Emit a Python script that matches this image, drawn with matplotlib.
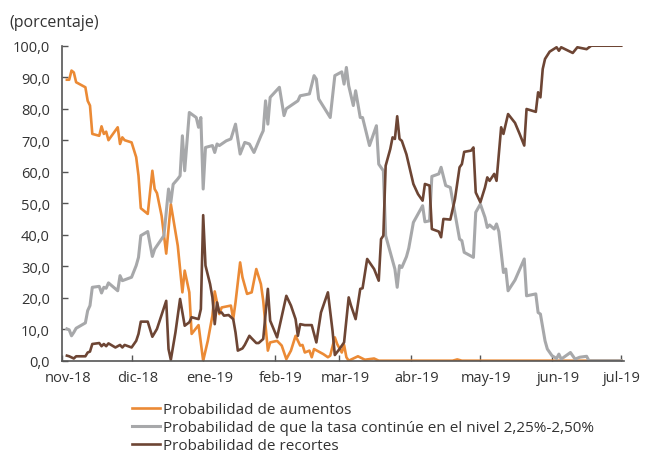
import matplotlib
matplotlib.use("Agg")
import matplotlib.pyplot as plt
import matplotlib.transforms as mtransforms
from matplotlib.ticker import FuncFormatter
import pandas as pd

plt.rcParams['font.family'] = ['Open Sans', 'DejaVu Sans']

# Probabilidad de aumentos
fechas_aum = ['2018-11-03', '2018-11-04', '2018-11-05', '2018-11-06', '2018-11-07',
              '2018-11-11', '2018-11-12', '2018-11-13', '2018-11-14', '2018-11-17',
              '2018-11-18', '2018-11-19', '2018-11-20', '2018-11-21', '2018-11-25',
              '2018-11-26', '2018-11-27', '2018-11-28', '2018-12-01', '2018-12-03',
              '2018-12-04', '2018-12-05', '2018-12-08', '2018-12-10', '2018-12-11',
              '2018-12-12', '2018-12-14', '2018-12-16', '2018-12-18', '2018-12-21',
              '2018-12-23', '2018-12-24', '2018-12-26', '2018-12-27', '2018-12-30',
              '2019-01-01', '2019-01-03', '2019-01-05', '2019-01-06', '2019-01-08',
              '2019-01-09', '2019-01-13', '2019-01-14', '2019-01-15', '2019-01-17',
              '2019-01-18', '2019-01-20', '2019-01-22', '2019-01-24', '2019-01-26',
              '2019-01-27', '2019-01-29', '2019-01-30', '2019-02-02', '2019-02-04',
              '2019-02-06', '2019-02-08', '2019-02-10', '2019-02-12', '2019-02-13',
              '2019-02-14', '2019-02-16', '2019-02-17', '2019-02-18', '2019-02-22',
              '2019-02-24', '2019-02-25', '2019-02-27', '2019-02-28', '2019-03-02',
              '2019-03-03', '2019-03-04', '2019-03-05', '2019-03-09', '2019-03-12',
              '2019-03-16', '2019-03-18', '2019-04-19', '2019-04-21', '2019-04-23',
              '2019-07-01']
aumentos = [89.2, 89.2, 92.1, 91.5, 88.4,
            86.8, 82.5, 81.0, 72.0, 71.4,
            74.4, 72.0, 72.7, 70.0, 74.1,
            68.8, 70.9, 70.0, 69.3, 64.6,
            58.7, 48.4, 46.6, 60.3, 54.5,
            53.2, 46.0, 34.0, 49.7, 36.5,
            21.7, 28.6, 21.7, 8.5, 11.3,
            0.0, 6.3, 14.3, 22.0, 14.8,
            16.9, 17.5, 13.2, 18.5, 31.2,
            26.5, 21.2, 21.7, 29.1, 24.3,
            19.0, 3.2, 5.8, 6.3, 4.8,
            0.5, 3.2, 7.9, 4.8, 5.0,
            2.6, 3.2, 1.1, 3.7, 2.1,
            1.1, 1.6, 7.4, 5.3, 2.6,
            5.0, 1.1, 0.0, 1.4, 0.3,
            0.7, 0.0, 0.0, 0.4, 0.0,
            0.0]

# Probabilidad de que la tasa continúe en el nivel 2,25%-2,50%
fechas_cont = ['2018-11-03', '2018-11-04', '2018-11-05', '2018-11-06', '2018-11-07',
               '2018-11-11', '2018-11-12', '2018-11-13', '2018-11-14', '2018-11-17',
               '2018-11-18', '2018-11-19', '2018-11-20', '2018-11-21', '2018-11-25',
               '2018-11-26', '2018-11-27', '2018-12-01', '2018-12-03', '2018-12-04',
               '2018-12-05', '2018-12-08', '2018-12-10', '2018-12-11', '2018-12-12',
               '2018-12-15', '2018-12-17', '2018-12-18', '2018-12-19', '2018-12-21',
               '2018-12-22', '2018-12-23', '2018-12-24', '2018-12-26', '2018-12-29',
               '2018-12-30', '2018-12-31', '2019-01-01', '2019-01-02', '2019-01-05',
               '2019-01-06', '2019-01-07', '2019-01-08', '2019-01-11', '2019-01-13',
               '2019-01-15', '2019-01-17', '2019-01-19', '2019-01-21', '2019-01-23',
               '2019-01-26', '2019-01-27', '2019-01-28', '2019-01-29', '2019-01-30',
               '2019-02-03', '2019-02-05', '2019-02-06', '2019-02-08', '2019-02-09',
               '2019-02-11', '2019-02-12', '2019-02-16', '2019-02-18', '2019-02-19',
               '2019-02-20', '2019-02-25', '2019-02-27', '2019-03-02', '2019-03-03',
               '2019-03-04', '2019-03-05', '2019-03-07', '2019-03-08', '2019-03-10',
               '2019-03-11', '2019-03-14', '2019-03-17', '2019-03-18', '2019-03-20',
               '2019-03-21', '2019-03-23', '2019-03-25', '2019-03-26', '2019-03-27',
               '2019-03-28', '2019-03-30', '2019-03-31', '2019-04-02', '2019-04-06',
               '2019-04-07', '2019-04-09', '2019-04-10', '2019-04-13', '2019-04-14',
               '2019-04-16', '2019-04-18', '2019-04-22', '2019-04-23', '2019-04-24',
               '2019-04-28', '2019-04-29', '2019-05-01', '2019-05-03', '2019-05-04',
               '2019-05-05', '2019-05-07', '2019-05-08', '2019-05-09', '2019-05-11',
               '2019-05-12', '2019-05-13', '2019-05-16', '2019-05-20', '2019-05-21',
               '2019-05-25', '2019-05-26', '2019-05-27', '2019-05-29', '2019-05-30',
               '2019-06-01', '2019-06-03', '2019-06-04', '2019-06-05', '2019-06-09',
               '2019-06-11', '2019-06-13', '2019-06-16', '2019-06-17', '2019-07-01']
continua = [10.1, 9.8, 7.9, 9.0, 10.3,
            12.0, 15.9, 17.5, 23.3, 23.6,
            21.5, 23.3, 23.0, 24.7, 22.2,
            27.0, 25.4, 26.5, 30.2, 32.8,
            39.7, 41.0, 33.1, 35.4, 36.5,
            39.7, 54.5, 50.3, 56.0, 57.7,
            58.7, 71.4, 60.3, 78.8, 77.2,
            74.1, 77.2, 54.5, 67.7, 68.3,
            66.1, 68.8, 68.3, 69.8, 70.4,
            75.1, 65.6, 69.3, 68.8, 66.1,
            71.4, 73.0, 82.5, 75.1, 83.6,
            86.8, 77.8, 80.0, 81.0, 81.5,
            82.5, 84.1, 84.7, 90.5, 89.4,
            83.1, 77.2, 90.5, 91.7, 87.8,
            93.1, 87.3, 81.0, 85.7, 77.2,
            77.2, 68.3, 74.6, 62.4, 60.3,
            39.7, 34.4, 29.1, 23.3, 30.2,
            29.6, 33.0, 35.7, 43.9, 49.2,
            44.1, 44.4, 58.5, 59.3, 61.4,
            55.6, 55.0, 38.6, 38.1, 34.4,
            32.8, 47.1, 49.7, 45.5, 42.3,
            43.1, 41.8, 43.4, 41.0, 28.0,
            29.1, 22.2, 25.6, 32.3, 20.6,
            21.2, 15.3, 14.8, 6.3, 3.7,
            1.6, 0.7, 2.1, 0.5, 2.6,
            0.5, 1.1, 1.4, 0.0, 0.0]

# Probabilidad de recortes
fechas_rec = ['2018-11-03', '2018-11-04', '2018-11-06', '2018-11-07', '2018-11-11',
              '2018-11-12', '2018-11-13', '2018-11-14', '2018-11-17', '2018-11-18',
              '2018-11-19', '2018-11-20', '2018-11-21', '2018-11-24', '2018-11-26',
              '2018-11-27', '2018-11-28', '2018-12-01', '2018-12-03', '2018-12-04',
              '2018-12-05', '2018-12-08', '2018-12-10', '2018-12-12', '2018-12-16',
              '2018-12-17', '2018-12-18', '2018-12-20', '2018-12-22', '2018-12-24',
              '2018-12-26', '2018-12-27', '2018-12-30', '2018-12-31', '2019-01-01',
              '2019-01-02', '2019-01-04', '2019-01-05', '2019-01-06', '2019-01-07',
              '2019-01-08', '2019-01-09', '2019-01-10', '2019-01-12', '2019-01-14',
              '2019-01-15', '2019-01-16', '2019-01-18', '2019-01-19', '2019-01-21',
              '2019-01-22', '2019-01-24', '2019-01-25', '2019-01-27', '2019-01-29',
              '2019-01-30', '2019-02-02', '2019-02-06', '2019-02-08', '2019-02-10',
              '2019-02-11', '2019-02-12', '2019-02-14', '2019-02-17', '2019-02-19',
              '2019-02-21', '2019-02-24', '2019-02-26', '2019-02-27', '2019-03-01',
              '2019-03-03', '2019-03-05', '2019-03-06', '2019-03-08', '2019-03-10',
              '2019-03-11', '2019-03-13', '2019-03-16', '2019-03-18', '2019-03-19',
              '2019-03-20', '2019-03-21', '2019-03-23', '2019-03-24', '2019-03-25',
              '2019-03-26', '2019-03-27', '2019-03-28', '2019-03-30', '2019-04-02',
              '2019-04-04', '2019-04-06', '2019-04-07', '2019-04-09', '2019-04-10',
              '2019-04-13', '2019-04-14', '2019-04-15', '2019-04-18', '2019-04-20',
              '2019-04-22', '2019-04-23', '2019-04-24', '2019-04-27', '2019-04-28',
              '2019-04-29', '2019-05-01', '2019-05-03', '2019-05-04', '2019-05-05',
              '2019-05-07', '2019-05-08', '2019-05-10', '2019-05-11', '2019-05-12',
              '2019-05-13', '2019-05-16', '2019-05-18', '2019-05-20', '2019-05-21',
              '2019-05-25', '2019-05-26', '2019-05-27', '2019-05-28', '2019-05-29',
              '2019-05-31', '2019-06-03', '2019-06-04', '2019-06-05', '2019-06-10',
              '2019-06-12', '2019-06-16', '2019-06-18', '2019-07-01']
recortes = [1.6, 1.4, 0.7, 1.4, 1.4,
            2.6, 2.9, 5.3, 5.6, 4.6,
            5.3, 4.6, 5.5, 4.2, 5.0,
            4.2, 5.0, 4.2, 6.3, 8.5,
            12.4, 12.4, 7.6, 10.1, 19.0,
            3.7, 0.3, 9.0, 19.6, 11.1,
            12.2, 13.8, 13.2, 16.4, 46.2,
            30.2, 24.3, 20.1, 11.6, 18.5,
            15.3, 15.3, 14.3, 14.5, 13.2,
            9.0, 3.2, 3.9, 5.0, 7.9,
            7.1, 5.6, 5.6, 6.9, 22.8,
            12.7, 7.4, 20.6, 17.5, 13.2,
            7.9, 11.6, 11.3, 11.3, 5.8,
            15.3, 21.7, 9.5, 1.8, 3.7,
            5.8, 20.1, 17.5, 13.2, 22.8,
            23.0, 32.3, 29.1, 25.4, 38.6,
            39.7, 61.9, 67.2, 70.9, 70.4,
            77.6, 70.4, 69.8, 65.5, 56.1,
            52.9, 50.8, 56.1, 55.6, 41.8,
            41.0, 39.2, 45.0, 44.8, 51.3,
            61.4, 62.4, 66.3, 66.7, 67.7,
            53.4, 50.3, 55.0, 58.2, 57.1,
            59.3, 57.1, 74.1, 72.0, 75.1,
            78.3, 75.5, 72.0, 68.3, 79.9,
            79.0, 85.2, 83.6, 92.6, 95.8,
            98.1, 99.5, 98.4, 99.5, 97.7,
            99.5, 98.9, 100.0, 100.0]

meses = ['2018-11-01', '2018-12-01', '2019-01-01', '2019-02-01', '2019-03-01',
         '2019-04-01', '2019-05-01', '2019-06-01', '2019-07-01']
etiquetas_meses = ['nov-18', 'dic-18', 'ene-19', 'feb-19', 'mar-19',
                   'abr-19', 'may-19', 'jun-19', 'jul-19']

fig = plt.figure(figsize=(6.48, 4.56), dpi=100)
ax = fig.add_axes([0.0961, 0.2068, 0.8662, 0.6908])

ax.plot(pd.to_datetime(fechas_aum), aumentos, color='#EB8A35', lw=1.9,
        label='Probabilidad de aumentos', solid_joinstyle='round')
ax.plot(pd.to_datetime(fechas_cont), continua, color='#A7A8AA', lw=2.2,
        label='Probabilidad de que la tasa continúe en el nivel 2,25%-2,50%',
        solid_joinstyle='round')
ax.plot(pd.to_datetime(fechas_rec), recortes, color='#6D4534', lw=1.9,
        label='Probabilidad de recortes', solid_joinstyle='round')

ax.set_ylim(0, 100)
ax.set_yticks(range(0, 101, 10))
ax.yaxis.set_major_formatter(FuncFormatter(lambda v, p: f"{v:.1f}".replace('.', ',')))
ax.set_xlim(pd.Timestamp('2018-11-01'), pd.Timestamp('2019-07-02'))
ax.set_xticks(pd.to_datetime(meses))
ax.set_xticklabels(etiquetas_meses)

for s in ['top', 'right']:
    ax.spines[s].set_visible(False)
for s in ['left', 'bottom']:
    ax.spines[s].set_color('#555555')
    ax.spines[s].set_linewidth(1.2)

ax.tick_params(axis='both', direction='in', length=4, width=1, color='#555555',
               labelcolor='#333333')
ax.tick_params(axis='y', pad=9, labelsize=10.5)
ax.tick_params(axis='x', pad=7, labelsize=10.5)

# shift month labels a little to the right, as in the original
for i, lab in enumerate(ax.get_xticklabels()):
    dx = 6 if i < len(etiquetas_meses) - 1 else 0
    lab.set_transform(lab.get_transform() +
                      mtransforms.ScaledTranslation(dx / 100, 0, fig.dpi_scale_trans))

fig.text(9 / 648, 1 - 27 / 456, '(porcentaje)', fontsize=11.5, color='#333333',
         va='baseline', ha='left')

fig.legend(loc='upper left', bbox_to_anchor=(132 / 648, 1 - 403 / 456),
           frameon=False, borderpad=0, borderaxespad=0, handlelength=1.85,
           handletextpad=0.15, labelspacing=0.2, fontsize=11, labelcolor='#333333')

fig.savefig('out.png', dpi=100)
